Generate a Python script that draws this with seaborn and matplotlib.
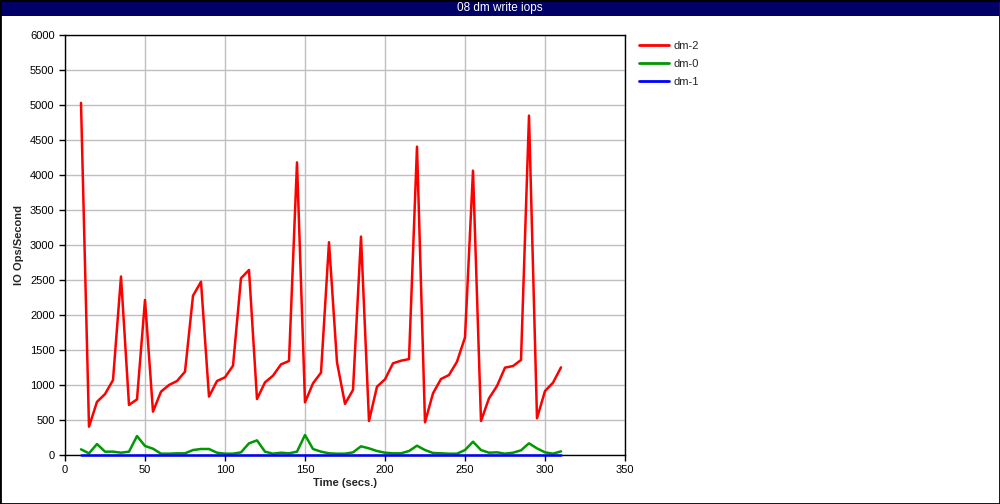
""" Recreate the dm write iops chart """

import matplotlib
matplotlib.use("Agg")
import matplotlib.pyplot as plt
import pandas as pd
import seaborn as sns
from matplotlib.patches import Rectangle

# sample times (secs.)
times = list(range(10, 315, 5))

# IO ops per second for each device
dm2_iops = [
    5030, 405, 760, 870, 1070, 2550, 715, 795, 2215, 620,
    905, 1000, 1057, 1190, 2275, 2475, 835, 1057, 1110, 1275,
    2525, 2643, 800, 1038, 1133, 1295, 1343, 4180, 752, 1024,
    1176, 3040, 1324, 730, 930, 3120, 486, 976, 1081, 1310,
    1347, 1370, 4405, 467, 881, 1086, 1143, 1333, 1681, 4062,
    486, 810, 986, 1248, 1271, 1357, 4848, 524, 914, 1033,
    1252,
]
dm0_iops = [
    81, 24, 157, 48, 48, 33, 48, 271, 129, 90,
    19, 19, 24, 24, 71, 86, 86, 33, 19, 19,
    38, 167, 209, 48, 19, 33, 24, 48, 286, 86,
    48, 24, 19, 19, 38, 124, 95, 57, 33, 24,
    24, 57, 133, 71, 29, 24, 19, 19, 71, 190,
    71, 33, 38, 19, 33, 67, 167, 95, 38, 19,
    52,
]
dm1_iops = [0] * len(times)

devices = ["dm-2", "dm-0", "dm-1"]
colors = ["#ff0000", "#009900", "#0000ff"]

title = "08 dm write iops"


def build_frame():
    """ Long-form dataframe for seaborn """
    rows = []
    for name, values in zip(devices, [dm2_iops, dm0_iops, dm1_iops]):
        for t, v in zip(times, values):
            rows.append([name, t, v])
    return pd.DataFrame(rows, columns=["device", "time", "iops"])


def main():
    sns.set_style("white")
    plt.rcParams["font.family"] = ["Liberation Sans", "DejaVu Sans"]

    df = build_frame()

    fig = plt.figure(figsize=(10, 5.04), dpi=100)
    ax = fig.add_axes([0.065, 0.0972, 0.56, 0.8334])

    sns.lineplot(data=df, x="time", y="iops", hue="device", hue_order=devices,
                 palette=colors, linewidth=1.8, ax=ax, legend=False)
    # draw the lines over the axis spines, like the original
    for line in ax.lines:
        line.set_zorder(3)
        line.set_clip_on(False)

    ax.set_xlim(0, 350)
    ax.set_ylim(0, 6000)
    ax.set_xticks(range(0, 351, 50))
    ax.set_yticks(range(0, 6001, 500))
    ax.grid(True, color="#bfbfbf", linewidth=1)
    ax.set_axisbelow(True)
    for spine in ax.spines.values():
        spine.set_color("black")
        spine.set_linewidth(1)
    ax.tick_params(axis="both", direction="out", length=4, width=1,
                   labelsize=8, colors="black", left=True, bottom=True)
    ax.set_xlabel("Time (secs.)", fontsize=8, fontweight="bold", labelpad=2)
    ax.set_ylabel("IO Ops/Second", fontsize=8, fontweight="bold", labelpad=4)

    # legend to the right of the plot, no frame
    handles = [plt.Line2D([], [], color=c, linewidth=2) for c in colors]
    fig.legend(handles, devices, loc="upper left", bbox_to_anchor=(0.629, 0.9385),
               frameon=False, fontsize=8, handlelength=2.7, labelspacing=0.7,
               handletextpad=0.4)

    # navy title bar across the top
    fig.patches.append(Rectangle((0.001, 1 - 16 / 504), 0.998, 16 / 504,
                                 transform=fig.transFigure, facecolor="#000066",
                                 edgecolor="none", zorder=0))
    fig.text(0.5, 1 - 8 / 504, title, color="white", fontsize=8.5,
             ha="center", va="center")

    # thin black border around the figure
    fig.patches.append(Rectangle((0, 0), 1, 1, transform=fig.transFigure,
                                 facecolor="none", edgecolor="black",
                                 linewidth=2, zorder=5))

    fig.savefig("out.png", dpi=100)


if __name__ == "__main__":
    main()
